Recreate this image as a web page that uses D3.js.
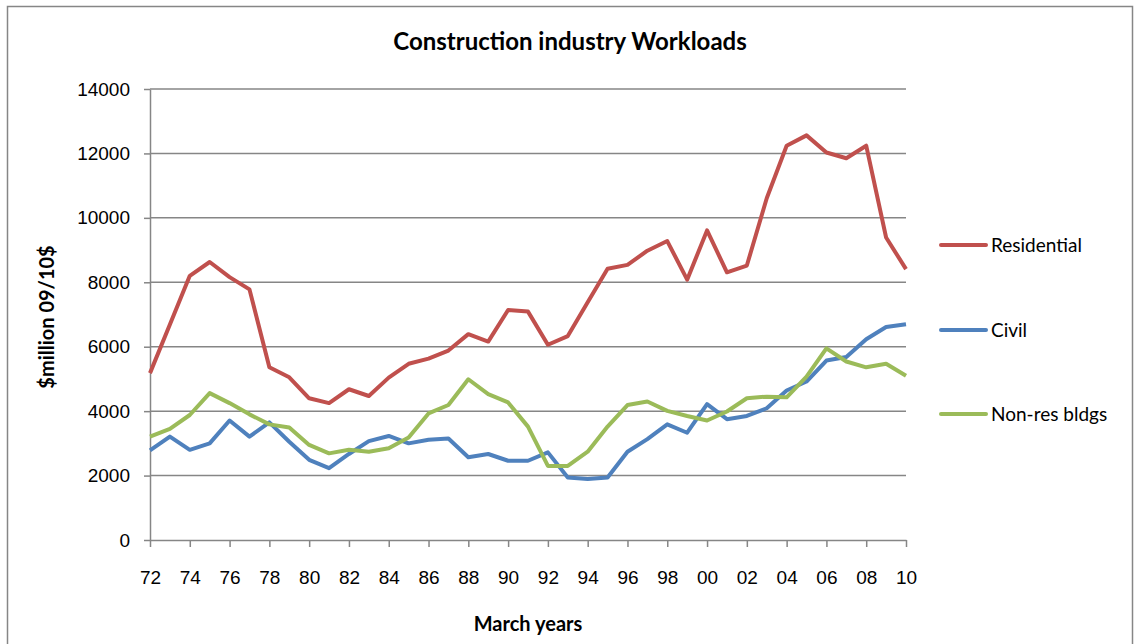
<!DOCTYPE html>
<meta charset="utf-8">
<style>
html, body {
  margin: 0;
  background: #fff;
}

.chart {
  display: block;
  font-family: Lato, "Open Sans", sans-serif;
}

.chart .grid line {
  stroke: #868686;
  stroke-width: 1.5;
}

.chart .axis path,
.chart .axis line {
  fill: none;
  stroke: #868686;
  stroke-width: 1.5;
}

.chart .axis text {
  font-size: 19px;
  fill: #000;
}

.chart .series {
  fill: none;
  stroke-width: 4;
  stroke-linejoin: round;
}
</style>
<body>
<svg class="chart js-chart" width="1141" height="644"></svg>

<script src="https://d3js.org/d3.v7.min.js"></script>
<script>
"use strict";

// March years 1972 .. 2010
var years = ["72","73","74","75","76","77","78","79","80","81","82","83","84","85","86","87","88","89","90","91",
             "92","93","94","95","96","97","98","99","00","01","02","03","04","05","06","07","08","09","10"];

var residential = [5180, 6690, 8200, 8630, 8160, 7780, 5360, 5050, 4400, 4250, 4680, 4470, 5040, 5470, 5630, 5880, 6390, 6160, 7140, 7090,
                   6060, 6330, 7380, 8420, 8540, 8980, 9280, 8080, 9610, 8310, 8520, 10610, 12240, 12560, 12030, 11850, 12240, 9390, 8410];

var civil = [2780, 3210, 2800, 3000, 3710, 3210, 3650, 3050, 2490, 2230, 2670, 3070, 3230, 3000, 3110, 3150, 2570, 2670, 2460, 2460,
             2720, 1940, 1890, 1940, 2740, 3130, 3590, 3330, 4220, 3750, 3850, 4090, 4640, 4920, 5570, 5680, 6230, 6610, 6700];

var nonRes = [3210, 3450, 3880, 4560, 4250, 3900, 3590, 3490, 2950, 2690, 2800, 2740, 2850, 3180, 3930, 4190, 4990, 4530, 4270, 3520,
              2300, 2300, 2740, 3520, 4190, 4300, 4010, 3850, 3710, 3990, 4400, 4450, 4430, 5070, 5950, 5540, 5360, 5470, 5100];

var yTicks = [0, 2000, 4000, 6000, 8000, 10000, 12000, 14000];

var seriesNames = ["Residential", "Civil", "Non-res bldgs"];
var seriesColors = ["#C0504D", "#4F81BD", "#9BBB59"];

var margin = { top: 89, right: 235, bottom: 104, left: 150 };
var width = 1141, height = 644;
var innerW = width - margin.left - margin.right;
var innerH = height - margin.top - margin.bottom;

var svg = d3.select(".js-chart");

// outer frame
svg.append("rect")
  .attr("x", 7.5).attr("y", 6.5)
  .attr("width", 1125).attr("height", 660)
  .attr("fill", "none")
  .attr("stroke", "#868686")
  .attr("stroke-width", 1.5);

var x = d3.scalePoint().domain(years).range([0, innerW]);
var y = d3.scaleLinear().domain([0, 14000]).range([innerH, 0]);

var g = svg.append("g")
  .attr("transform", "translate(" + margin.left + "," + margin.top + ")");

g.append("g")
  .attr("class", "grid")
  .selectAll("line")
  .data(yTicks.slice(1))
  .enter().append("line")
    .attr("x1", 0).attr("x2", innerW)
    .attr("y1", function (d) { return y(d); })
    .attr("y2", function (d) { return y(d); });

g.append("g")
  .attr("class", "axis axis--y")
  .call(d3.axisLeft(y)
    .tickValues(yTicks)
    .tickFormat(d3.format("d"))
    .tickSize(6).tickPadding(14).tickSizeOuter(0));

g.append("g")
  .attr("class", "axis axis--x")
  .attr("transform", "translate(0," + innerH + ")")
  .call(d3.axisBottom(x)
    .tickValues(years.filter(function (d, i) { return i % 2 === 0; }))
    .tickSize(7).tickPadding(24).tickSizeOuter(0));

var line = d3.line()
  .x(function (d, i) { return x(years[i]); })
  .y(function (d) { return y(d); });

var allSeries = [residential, civil, nonRes];

g.selectAll(".series")
  .data(allSeries)
  .enter().append("path")
    .attr("class", "series")
    .attr("stroke", function (d, i) { return seriesColors[i]; })
    .attr("d", line);

// legend
var legend = svg.append("g").attr("class", "legend");
var legendY = [245, 330, 414];
seriesNames.forEach(function (name, i) {
  legend.append("line")
    .attr("x1", 941).attr("x2", 986)
    .attr("y1", legendY[i]).attr("y2", legendY[i])
    .attr("stroke", seriesColors[i])
    .attr("stroke-width", 4)
    .attr("stroke-linecap", "round");
  legend.append("text")
    .attr("x", 991).attr("y", legendY[i])
    .attr("dy", "0.35em")
    .style("font-size", "19px")
    .text(name);
});

// titles
svg.append("text")
  .attr("x", 570).attr("y", 50)
  .attr("text-anchor", "middle")
  .style("font-size", "24px")
  .style("font-weight", "bold")
  .text("Construction industry Workloads");

svg.append("text")
  .attr("transform", "translate(54,317) rotate(-90)")
  .attr("text-anchor", "middle")
  .style("font-size", "20px")
  .style("font-weight", "bold")
  .text("$million 09/10$");

svg.append("text")
  .attr("x", 528).attr("y", 631)
  .attr("text-anchor", "middle")
  .style("font-size", "20px")
  .style("font-weight", "bold")
  .text("March years");
</script>
</body>
